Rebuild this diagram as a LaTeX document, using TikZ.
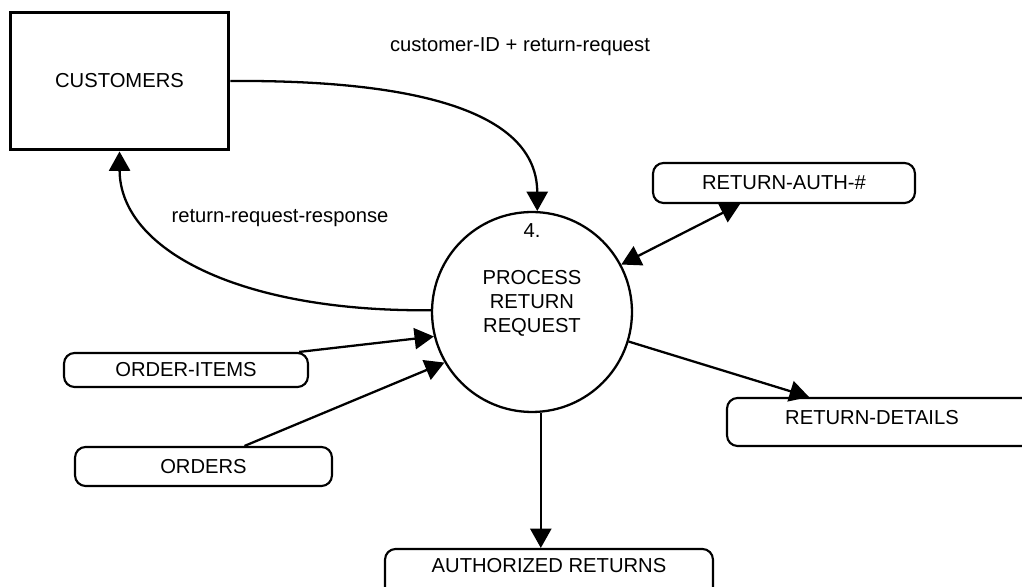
\documentclass[tikz,border=0pt]{standalone}
\usepackage{fontspec}
\setmainfont{Liberation Sans}
\usetikzlibrary{arrows.meta,calc}
\begin{document}
\begin{tikzpicture}[x=0.02cm,y=-0.02cm,
  every node/.style={font=\fontsize{11.5}{13.6}\selectfont},
  entity/.style={draw, line width=1.7pt, inner sep=0pt},
  proc/.style={draw, circle, line width=1.3pt, inner sep=0pt, minimum size=4cm},
  store/.style={draw, line width=1.2pt, rounded corners=6pt, inner sep=0pt},
  flow/.style={line width=1.3pt, -{Triangle[length=11pt,width=12pt]}},
  biflow/.style={line width=1.3pt, {Triangle[length=11pt,width=12pt]}-{Triangle[length=11pt,width=12pt]}},
]
\useasboundingbox (0,0) rectangle (1022,587);
\clip (0,0) rectangle (1022,587);

\node[entity, minimum width=4.38cm, minimum height=2.76cm] (cu) at (119.5,81) {CUSTOMERS};
\node[proc] (p) at (532,312) {};
\node (pnum) at (532,231) {4.};
\node[align=center] (ptxt) at (532,303) {PROCESS\\RETURN\\REQUEST};

\node[store, minimum width=5.24cm, minimum height=0.8cm] (ra) at (784,183) {RETURN-AUTH-\#};
\node[store, minimum width=4.88cm, minimum height=0.68cm] (oi) at (186,370) {ORDER-ITEMS};
\node[store, minimum width=5.14cm, minimum height=0.78cm] (or) at (203.5,466.5) {ORDERS};
\node[store, minimum width=6.26cm, minimum height=0.96cm] (rd) at (883.5,422) {};
\node (rdt) at (872,418) {RETURN-DETAILS};
\node[store, minimum width=6.56cm, minimum height=1.02cm] (ar) at (549,574.5) {};
\node (art) at (549,566) {AUTHORIZED RETURNS};

\draw[flow] (cu.east) .. controls (380,80) and (537,100) .. (p.87);
\node (l1) at (520,47) {customer-ID + return-request};
\draw[flow] (p.179) .. controls (240,312) and (120,250) .. (cu.south);
\node (l2) at (280,218) {return-request-response};

\draw[biflow] ($(ra.south)+(-44,0)$) -- (p.28);
\draw[flow] ($(oi.north east)+(-10,0)$) -- (p.194);
\draw[flow] ($(or.north)+(41,0)$) -- (p.210);
\draw[flow] (p.-17) -- ($(rd.north west)+(83,0)$);
\draw[flow] (p.-85) -- (p.-85 |- ar.north);
\end{tikzpicture}
\end{document}
